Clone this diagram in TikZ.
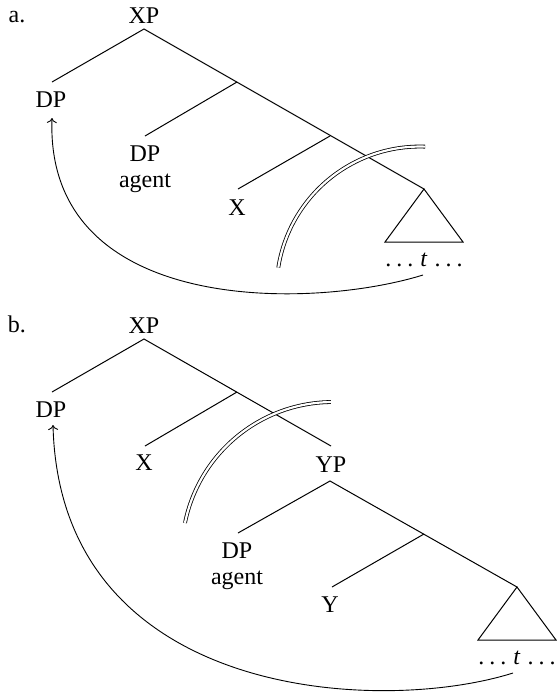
\documentclass[tikz,border=0pt]{standalone}
\usepackage{fontspec}
\setmainfont{Liberation Serif}
\usetikzlibrary{arrows.meta}
\newcommand{\trc}{.\kern5pt.\kern5pt.\kern7pt\textit{t}\kern7pt.\kern5pt.\kern5pt.}
\begin{document}
\begin{tikzpicture}[x=1pt,y=1pt,
  lbl/.style={inner sep=0pt, anchor=base, font=\fontsize{24}{28}\selectfont},
  edge/.style={line width=1pt},
  bar/.style={double, double distance=2.2pt, line width=0.8pt},
  mv/.style={line width=0.9pt, -{To[length=5pt,width=10pt]}}]
\useasboundingbox (0,0) rectangle (557,-694);
% ---------- part a ----------
\node[lbl] (la) at (17,-22) {a.};
\node[lbl] (xpa) at (144,-23) {XP};
\node[lbl] (dpa) at (51,-107) {DP};
\node[lbl] (dpag) at (145,-161) {DP};
\node[lbl] (aga) at (145,-187) {agent};
\node[lbl] (xa) at (237,-215) {X};
\node[lbl] (ta) at (424,-266) {\trc};
\coordinate (a0) at (144,-29);
\coordinate (a1) at (52,-82);
\coordinate (a2) at (237,-82);
\coordinate (a3) at (145,-136);
\coordinate (a4) at (330,-136);
\coordinate (a5) at (238,-189);
\coordinate (a6) at (424,-189);
\coordinate (a7) at (385,-242);
\coordinate (a8) at (463,-242);
\draw[edge] (a1) -- (a0) -- (a6);
\draw[edge] (a2) -- (a3);
\draw[edge] (a4) -- (a5);
\draw[edge] (a6) -- (a7) -- (a8) -- cycle;
\coordinate (arcA) at (278.3,-267.6);
\draw[bar] (arcA) arc[start angle=171, end angle=88, radius=143.5];
\coordinate (mvA0) at (423,-275);
\coordinate (mvA1) at (52,-118);
\draw[mv] (mvA0) .. controls (310,-310) and (45,-315) .. (mvA1);
% ---------- part b ----------
\node[lbl] (lb) at (17,-332) {b.};
\node[lbl] (xpb) at (144,-333) {XP};
\node[lbl] (dpb) at (51,-417) {DP};
\node[lbl] (xb) at (144,-470) {X};
\node[lbl] (ypb) at (331,-472) {YP};
\node[lbl] (dpbg) at (237,-558) {DP};
\node[lbl] (agb) at (237,-584) {agent};
\node[lbl] (yb) at (330,-612) {Y};
\node[lbl] (tb) at (517,-664) {\trc};
\coordinate (b0) at (144,-339);
\coordinate (b1) at (52,-392);
\coordinate (b2) at (237,-392);
\coordinate (b3) at (145,-446);
\coordinate (b4) at (331,-446);
\coordinate (c0) at (330,-481);
\coordinate (c1) at (238,-533);
\coordinate (c2) at (424,-534);
\coordinate (c3) at (332,-587);
\coordinate (c4) at (517,-587);
\coordinate (c5) at (478,-640);
\coordinate (c6) at (556,-640);
\draw[edge] (b1) -- (b0) -- (b4);
\draw[edge] (b2) -- (b3);
\draw[edge] (c1) -- (c0) -- (c4);
\draw[edge] (c2) -- (c3);
\draw[edge] (c4) -- (c5) -- (c6) -- cycle;
\coordinate (arcB) at (185,-522.9);
\draw[bar] (arcB) arc[start angle=168.5, end angle=90.8, radius=151];
\coordinate (mvB0) at (513,-673);
\coordinate (mvB1) at (53,-425);
\draw[mv] (mvB0) .. controls (380,-715) and (60,-700) .. (mvB1);
\end{tikzpicture}
\end{document}
